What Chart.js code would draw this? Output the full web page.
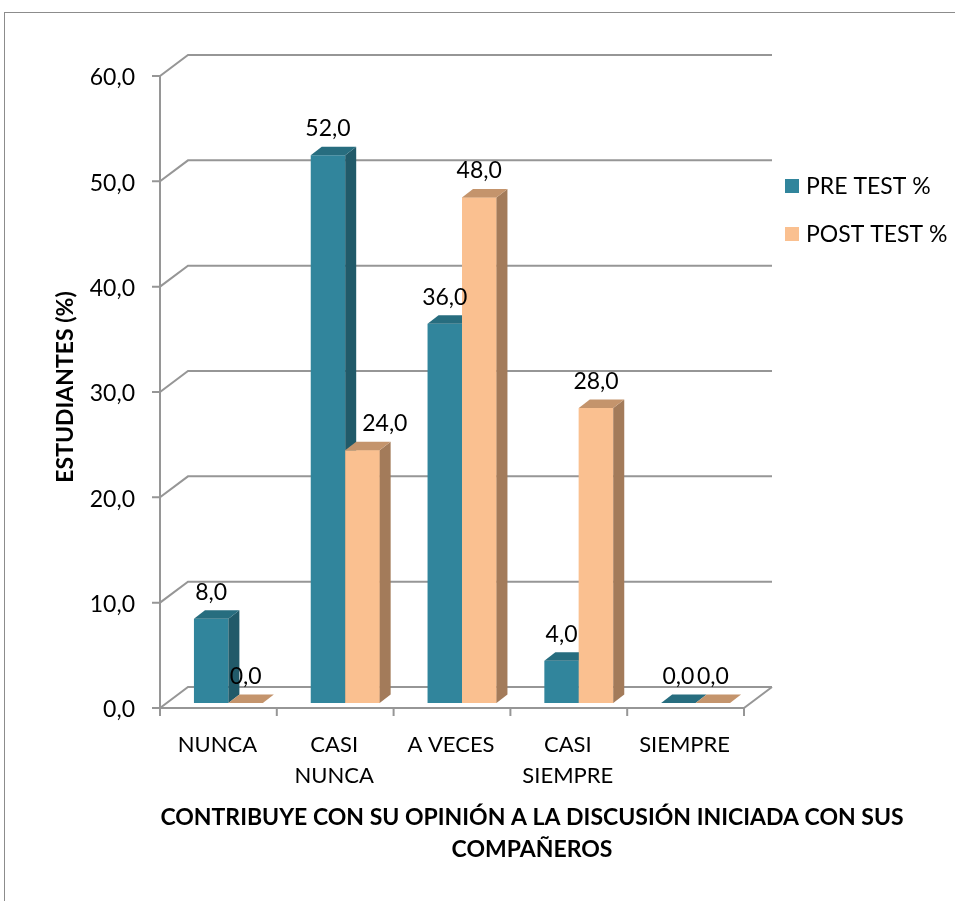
<!DOCTYPE html>
<html>
<head>
<meta charset="utf-8">
<script src="https://cdn.jsdelivr.net/npm/chart.js@4.4.0/dist/chart.umd.min.js"></script>
<style>
    html, body { margin: 0; padding: 0; background: #fff; }
    body { width: 955px; height: 901px; overflow: hidden; position: relative; }
    .frame { position: absolute; left: 4px; top: 12px; width: 1000px; height: 1000px;
             border-left: 1.5px solid #8c8c8c; border-top: 1.5px solid #8c8c8c; }
    .chart-box { position: absolute; left: 0; top: 0; width: 955px; height: 901px; }
</style>
</head>
<body>
<div class="frame"></div>
<div class="chart-box"><canvas id="opinion-chart"></canvas></div>
<script>
// Data
var categories = ['NUNCA', ['CASI', 'NUNCA'], 'A VECES', ['CASI', 'SIEMPRE'], 'SIEMPRE'];
var preTest = [8, 52, 36, 4, 0];
var postTest = [0, 24, 48, 28, 0];
var seriesNames = ['PRE TEST %', 'POST TEST %'];
var yTicks = [0, 10, 20, 30, 40, 50, 60];
var yAxisTitle = 'ESTUDIANTES (%)';
var xAxisTitle = ['CONTRIBUYE CON SU OPINIÓN A LA DISCUSIÓN INICIADA CON SUS', 'COMPAÑEROS'];

// Look
var FONT = 'Lato, "Liberation Sans", sans-serif';
var faceColors = [
    { front: '#31859c', top: '#276d7f', side: '#215a69' },
    { front: '#fac090', top: '#c4946c', side: '#a37b5a' }
];
var gridColor = '#969696';
var FRONT = { dx: -10, dy: 5 };      // bar plane -> front edge of the floor
var WALL = { dx: 28, dy: -21 };      // front edge -> back wall
var DEPTH = { dx: 11, dy: -8.5 };    // bar thickness

function fmt(v) {
    return v.toFixed(1).replace('.', ',');
}

function poly(ctx, pts, color) {
    ctx.beginPath();
    ctx.moveTo(pts[0][0], pts[0][1]);
    for (var i = 1; i < pts.length; i++) ctx.lineTo(pts[i][0], pts[i][1]);
    ctx.closePath();
    ctx.fillStyle = color;
    ctx.fill();
}

function drawFaces(ctx, bar, colors) {
    var l = bar.x - bar.width / 2, r = bar.x + bar.width / 2;
    var t = Math.min(bar.y, bar.base), b = bar.base;
    poly(ctx, [[r, t], [r + DEPTH.dx, t + DEPTH.dy], [r + DEPTH.dx, b + DEPTH.dy], [r, b]], colors.side);
    poly(ctx, [[l, t], [r, t], [r + DEPTH.dx, t + DEPTH.dy], [l + DEPTH.dx, t + DEPTH.dy]], colors.top);
}

var wallsPlugin = {
    id: 'walls',
    beforeDatasetsDraw: function (chart) {
        var ctx = chart.ctx, xs = chart.scales.x, ys = chart.scales.y;
        var n = categories.length;
        var fl = xs.getPixelForValue(-0.5) + FRONT.dx;
        var fr = xs.getPixelForValue(n - 0.5) + FRONT.dx;
        var y0 = ys.getPixelForValue(0) + FRONT.dy;
        var yTop = ys.getPixelForValue(yTicks[yTicks.length - 1]) + FRONT.dy;
        ctx.save();
        ctx.strokeStyle = gridColor;
        ctx.lineWidth = 2;
        yTicks.forEach(function (v) {
            var fy = ys.getPixelForValue(v) + FRONT.dy;
            ctx.beginPath();
            ctx.moveTo(fl - 8, fy);
            ctx.lineTo(fl, fy);
            ctx.lineTo(fl + WALL.dx, fy + WALL.dy);
            ctx.lineTo(fr + WALL.dx, fy + WALL.dy);
            ctx.stroke();
        });
        ctx.beginPath();
        ctx.moveTo(fl, yTop);
        ctx.lineTo(fl, y0);
        ctx.lineTo(fr, y0);
        ctx.lineTo(fr + WALL.dx, y0 + WALL.dy);
        ctx.stroke();
        for (var i = 0; i <= n; i++) {
            var bx = xs.getPixelForValue(i - 0.5) + FRONT.dx;
            ctx.beginPath();
            ctx.moveTo(bx, y0);
            ctx.lineTo(bx, y0 + 8);
            ctx.stroke();
        }
        ctx.restore();
    },
    afterDatasetsDraw: function (chart) {
        var ctx = chart.ctx;
        var pre = chart.getDatasetMeta(0), post = chart.getDatasetMeta(1);
        ctx.save();
        for (var i = 0; i < categories.length; i++) {
            drawFaces(ctx, pre.data[i], faceColors[0]);
            post.data[i].draw(ctx);
            drawFaces(ctx, post.data[i], faceColors[1]);
        }
        // value labels
        ctx.fillStyle = '#000';
        ctx.font = '23px ' + FONT;
        ctx.textAlign = 'center';
        ctx.textBaseline = 'alphabetic';
        [pre, post].forEach(function (meta, d) {
            meta.data.forEach(function (bar, i) {
                var v = chart.data.datasets[d].data[i];
                var txt = fmt(v), lx = bar.x;
                // post label running into the front of a taller pre bar: move it clear to the right
                if (d === 1 && preTest[i] > v) {
                    var prev = pre.data[i];
                    var w = ctx.measureText(txt).width;
                    if (lx - w / 2 < prev.x + prev.width / 2 && prev.y < bar.y - 19) {
                        lx = prev.x + prev.width / 2 + DEPTH.dx + 6 + w / 2;
                    }
                }
                ctx.fillText(txt, lx, bar.y - 19);
            });
        });
        ctx.restore();
    },
    afterDraw: function (chart) {
        var ctx = chart.ctx, a = chart.chartArea;
        ctx.save();
        // legend
        ctx.font = '23px ' + FONT;
        ctx.textBaseline = 'middle';
        ctx.textAlign = 'left';
        seriesNames.forEach(function (name, i) {
            var ly = a.top + 115 + i * 48;
            ctx.fillStyle = faceColors[i].front;
            ctx.fillRect(a.right + 31, ly - 7, 14, 14);
            ctx.fillStyle = '#000';
            ctx.fillText(name, a.right + 52, ly + 1);
        });
        // x axis title
        ctx.font = 'bold 23px ' + FONT;
        ctx.textAlign = 'center';
        xAxisTitle.forEach(function (line, i) {
            ctx.fillText(line, a.left + 362, 818 + i * 32);
        });
        ctx.restore();
    }
};

var opinionChart = new Chart(document.getElementById('opinion-chart'), {
    type: 'bar',
    data: {
        labels: categories,
        datasets: [{
            label: seriesNames[0],
            data: preTest,
            backgroundColor: faceColors[0].front,
            borderWidth: 0
        }, {
            label: seriesNames[1],
            data: postTest,
            backgroundColor: faceColors[1].front,
            borderWidth: 0
        }]
    },
    plugins: [wallsPlugin],
    options: {
        responsive: true,
        maintainAspectRatio: false,
        animation: false,
        layout: {
            padding: { top: 71, right: 201, bottom: 0, left: 0 }
        },
        datasets: {
            bar: { categoryPercentage: 0.59, barPercentage: 1 }
        },
        plugins: {
            legend: { display: false },
            tooltip: { enabled: false }
        },
        scales: {
            x: {
                afterFit: function (s) { s.height = 198; },
                grid: { display: false, drawTicks: false },
                border: { display: false },
                ticks: {
                    color: '#000',
                    font: { family: FONT, size: 22, lineHeight: 1.42 },
                    padding: 26,
                    labelOffset: FRONT.dx - 1,
                    autoSkip: false,
                    maxRotation: 0
                }
            },
            y: {
                min: 0,
                max: 60,
                afterFit: function (s) { s.width = 170; },
                afterBuildTicks: function (s) {
                    s.ticks = yTicks.map(function (v) { return { value: v }; });
                },
                grid: { display: false, drawTicks: false },
                border: { display: false },
                ticks: {
                    color: '#000',
                    font: { family: FONT, size: 23 },
                    padding: 35,
                    labelOffset: FRONT.dy + 2,
                    callback: function (v) { return fmt(v); }
                },
                title: {
                    display: true,
                    text: yAxisTitle,
                    color: '#000',
                    font: { family: FONT, size: 23, weight: 'bold', lineHeight: 1.2 },
                    padding: { top: 52, bottom: 0 }
                }
            }
        }
    }
});
</script>
</body>
</html>
